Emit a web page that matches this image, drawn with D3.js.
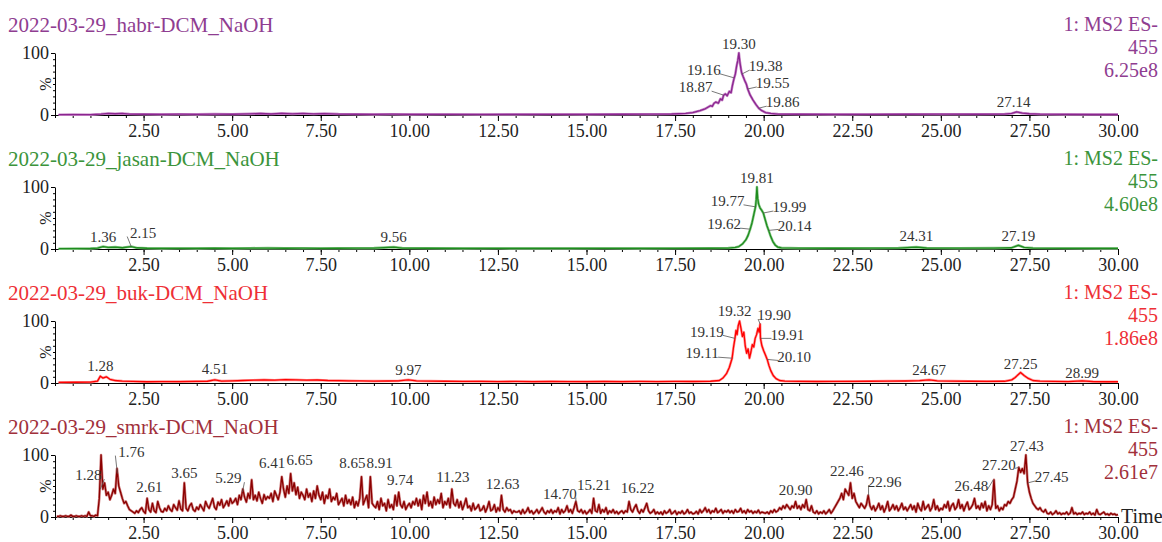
<!DOCTYPE html>
<html>
<head>
<meta charset="utf-8">
<script src="https://cdn.jsdelivr.net/npm/d3@7"></script>
<style>
body { margin: 0; background: #fff; }
svg { display: block; }
text { font-family: "Liberation Serif", "Times New Roman", serif; }
</style>
</head>
<body>
<div class="chrom"></div>
<script>
// sample names, channel info and base peak intensity (from the picture)
var sampleNames = ["2022-03-29_habr-DCM_NaOH", "2022-03-29_jasan-DCM_NaOH", "2022-03-29_buk-DCM_NaOH", "2022-03-29_smrk-DCM_NaOH"];
var channels = ["1: MS2 ES-", "1: MS2 ES-", "1: MS2 ES-", "1: MS2 ES-"];
var masses = ["455", "455", "455", "455"];
var maxIntensity = ["6.25e8", "4.60e8", "1.86e8", "2.61e7"];
var xTicks = [2.5, 5, 7.5, 10, 12.5, 15, 17.5, 20, 22.5, 25, 27.5, 30];
var yTicks = [0, 100];

// traces as [time (min), %]
var habr = [[0.1,0.5],[0.5,0.6],[1.0,0.5],[1.3,1.5],[1.5,2.5],[1.7,2],[1.9,2.5],[2.1,1.5],[2.5,1.2],[3.0,1],[3.5,1.3],[4.0,1],[4.5,1.4],[5.0,1.2],[5.5,1.8],[5.8,2.4],[6.1,1.6],[6.4,2.6],[6.7,1.8],[7.0,2.5],[7.3,1.7],[7.6,2.3],[8.0,1.5],[8.5,1.2],[9,1],[9.5,1.3],[10,1],[11,1.1],[12,0.9],[13,1],[14,1.1],[15,1],[16,1.2],[16.8,1.3],[17.4,1.6],[17.8,2.5],[18.0,4],[18.2,7],[18.35,10],[18.5,15],[18.55,14],[18.6,19],[18.65,21],[18.72,19],[18.78,26],[18.83,24],[18.87,32],[18.92,34],[18.97,31],[19.03,38],[19.08,36],[19.12,48],[19.16,58],[19.2,66],[19.24,80],[19.27,88],[19.30,100],[19.33,85],[19.36,74],[19.38,68],[19.42,62],[19.47,55],[19.51,50],[19.55,42],[19.62,32],[19.7,24],[19.78,17],[19.86,11],[19.95,7],[20.05,4],[20.2,2.5],[20.4,1.5],[21,1.2],[22,1],[23,1.1],[24,1.2],[25,1.3],[26,1.2],[26.8,1.5],[27.0,2.5],[27.14,5],[27.3,3],[27.5,2],[27.8,1.3],[28.5,1],[29.3,0.8],[30,0.8]];

var jasan = [[0.1,0.5],[0.6,0.6],[1.0,0.8],[1.2,1.5],[1.36,4],[1.5,2.5],[1.7,3],[1.9,2],[2.15,4],[2.3,2],[2.6,1.2],[3,1],[3.5,1.1],[4,1],[4.5,1.2],[5,1],[5.5,1.3],[6,1.4],[6.5,1.2],[7,1.3],[7.5,1.1],[8,1.2],[8.5,1.3],[9,1.4],[9.56,3],[9.8,1.5],[10.5,1.2],[11.5,1],[12.5,1.1],[13.5,1],[14.5,1],[15.5,1.1],[16.5,1],[17.5,1.1],[18.5,1.2],[19.0,1.5],[19.2,2.5],[19.3,4],[19.4,8],[19.5,15],[19.56,22],[19.62,32],[19.67,42],[19.72,55],[19.77,68],[19.79,80],[19.81,100],[19.83,82],[19.86,72],[19.9,66],[19.95,62],[19.99,58],[20.04,48],[20.09,38],[20.14,30],[20.2,20],[20.26,12],[20.33,6],[20.4,3],[20.5,1.8],[21,1.3],[22,1.2],[23,1.3],[23.8,1.5],[24.31,3],[24.6,1.6],[25.5,1.3],[26.5,1.4],[27.0,2],[27.19,6],[27.35,2.5],[27.6,1.5],[28.5,1.1],[29.5,1],[30,1]];

var buk = [[0.1,1],[0.6,1.2],[1.0,1.3],[1.2,3],[1.28,11],[1.35,8],[1.45,10],[1.55,6],[1.7,4],[1.9,3],[2.2,2.5],[2.6,2],[3,2.3],[3.5,2.2],[4,2.6],[4.3,2.8],[4.51,5],[4.7,3],[5,3.5],[5.3,4],[5.6,4.5],[5.9,5],[6.2,4.5],[6.5,5.5],[6.8,5],[7.1,4.5],[7.4,4.8],[7.7,4],[8,3.8],[8.3,3.5],[8.6,3.3],[9,3],[9.4,3.2],[9.7,3.5],[9.97,5],[10.2,3.5],[10.6,3],[11,2.8],[11.5,2.5],[12,2.6],[12.5,2.3],[13,2.5],[13.5,2.2],[14,2.4],[14.5,2.3],[15,2.2],[15.5,2.4],[16,2.2],[16.5,2.5],[17,2.3],[17.5,2.5],[18,2.4],[18.5,2.8],[18.75,4],[18.85,8],[18.95,15],[19.03,25],[19.11,40],[19.15,58],[19.19,72],[19.22,85],[19.25,78],[19.28,92],[19.32,100],[19.36,88],[19.4,75],[19.44,82],[19.48,60],[19.52,48],[19.56,55],[19.6,40],[19.64,50],[19.68,62],[19.72,58],[19.76,72],[19.8,78],[19.84,88],[19.87,82],[19.90,95],[19.91,72],[19.95,60],[20.0,52],[20.05,45],[20.10,38],[20.15,28],[20.2,20],[20.27,12],[20.35,7],[20.45,4],[20.6,3],[21,2.6],[21.5,2.4],[22,2.5],[22.5,2.6],[23,2.8],[23.5,3],[24,3.2],[24.4,3.8],[24.67,5],[24.9,3.5],[25.3,3],[25.8,2.8],[26.3,2.6],[26.8,2.8],[27.0,5],[27.1,9],[27.25,17],[27.35,12],[27.45,8],[27.6,4],[27.8,3],[28.2,2.5],[28.6,2.3],[28.99,3.5],[29.3,2.2],[29.7,2],[30,2]];

// smrk is noisy, kept as one value per scan (0.05 min apart), one row per minute
var smrkStart = 0.05, smrkStep = 0.05;
var smrkScan = [
  1,1,2,1,1,2,1,1,3,1,1,2,1,1,2,1,2,1,8,2,
  2,1,3,2,30,100,45,55,35,40,28,35,45,38,78,50,40,30,22,25,
  18,12,10,8,6,10,7,12,15,9,6,30,12,8,22,10,7,25,15,9,
  8,14,10,18,12,9,20,15,11,26,13,10,55,14,10,18,22,12,9,16,
  12,20,15,10,25,18,14,22,30,16,12,24,19,28,15,20,26,18,30,22,
  25,30,20,35,28,45,32,24,38,30,60,28,35,26,40,30,22,36,28,33,
  30,38,25,42,35,28,40,65,45,32,50,38,70,42,55,36,48,30,40,35,
  28,45,32,38,25,42,30,50,35,28,40,22,35,30,45,25,32,28,38,20,
  25,30,18,35,22,28,20,32,15,25,18,30,65,20,28,35,15,65,22,18,
  15,25,12,30,18,22,10,28,15,20,12,35,18,40,20,15,25,12,18,22,
  15,25,20,30,18,28,12,35,22,40,18,25,15,32,20,28,22,38,15,25,
  20,30,15,45,22,18,28,15,25,12,20,30,15,18,10,22,12,15,20,10,
  12,18,8,15,25,10,12,20,8,15,10,35,12,8,15,10,12,6,10,8,
  8,10,5,12,6,9,15,7,10,5,8,12,6,10,15,8,5,10,7,12,
  6,10,8,15,5,12,7,10,18,8,12,6,15,25,10,8,12,6,10,5,
  8,12,6,30,10,8,20,6,12,8,15,5,10,7,12,6,9,5,8,10,
  6,10,8,25,12,8,15,20,10,6,12,8,15,22,10,6,8,12,5,8,
  5,8,4,10,6,8,12,5,7,10,4,8,6,10,5,7,12,6,8,5,
  6,9,5,12,7,10,15,8,12,6,10,8,14,7,9,12,6,10,8,11,
  7,10,6,12,8,9,14,7,10,6,12,8,10,6,9,7,11,6,8,7,
  6,8,5,10,7,12,8,10,15,12,18,14,20,16,12,18,15,25,14,18,
  12,20,15,28,12,10,18,8,6,10,5,8,6,10,5,8,12,6,10,15,
  20,25,30,38,28,45,40,35,55,30,38,25,20,15,22,18,14,20,35,18,
  12,18,10,15,22,12,18,8,15,25,10,14,20,12,18,10,15,22,12,16,
  10,15,20,12,18,8,22,14,10,25,12,16,20,10,15,28,12,18,10,14,
  12,20,15,25,10,18,22,12,16,28,14,20,10,18,24,12,15,20,30,14,
  18,12,22,15,25,10,18,12,20,60,14,18,10,15,12,20,18,25,22,28,
  32,45,58,80,72,78,70,100,55,40,30,22,18,14,12,15,10,8,12,6,
  5,8,4,6,10,5,7,4,6,5,8,4,6,15,5,7,4,6,5,8,
  4,6,5,8,4,6,3,12,5,4,6,8,4,5,3,6,4,5,3,4
];
var smrk = smrkScan.map(function(v, i) { return [smrkStart + i * smrkStep, v]; });

// labelled peaks: [time, % where the label points]
var habrPeaks = [[19.30,100],[19.16,60],[19.38,66],[18.87,32],[19.55,42],[19.86,11],[27.14,5]];
var jasanPeaks = [[1.36,4],[2.15,4],[9.56,3],[19.81,100],[19.77,68],[19.99,58],[19.62,32],[20.14,30],[24.31,3],[27.19,6]];
var bukPeaks = [[1.28,11],[4.51,5],[9.97,5],[19.32,100],[19.90,95],[19.19,72],[19.11,40],[19.91,72],[20.10,38],[24.67,5],[27.25,17],[28.99,3.5]];
var smrkPeaks = [[1.28,45],[1.76,70],[2.61,30],[3.65,55],[5.29,40],[6.41,62],[6.65,70],[8.65,65],[8.91,65],[9.74,40],[11.23,45],[12.63,35],[14.70,25],[15.21,30],[16.22,22],[20.90,25],[22.46,55],[22.96,35],[26.48,60],[27.20,80],[27.43,100],[27.45,55]];

// where each label text sits relative to its peak (px)
var habrShift = [[0,-9],[-30,-8],[24,-8],[-28,-8],[25,-6],[24,-6],[-3,-10]];
var jasanShift = [[0,-10],[12,-14],[0,-10],[0,-9],[-28,-6],[26,-6],[-26,-5],[26,-5],[0,-11],[0,-10]];
var bukShift = [[0,-10],[0,-11],[0,-10],[-5,-10],[14,-9],[-28,-7],[-30,-5],[27,-4],[27,-3],[0,-10],[0,-9],[0,-8]];
var smrkShift = [[-12,-14],[14,-22],[2,-12],[0,-10],[-14,-14],[-10,-16],[9,-14],[-9,-14],[9,-14],[0,-12],[0,-12],[0,-12],[-16,-8],[0,-14],[8,-16],[0,-12],[-4,-12],[16,-14],[-22,6],[-20,-3],[0,-9],[24,-6]];

var panels = [
  { data: habr, peaks: habrPeaks, shift: habrShift, line: "#8b2590", halo: "#c98cc9", text: "#8f3d91" },
  { data: jasan, peaks: jasanPeaks, shift: jasanShift, line: "#1e8c1e", halo: "#8cc98c", text: "#3b943b" },
  { data: buk, peaks: bukPeaks, shift: bukShift, line: "#ff0000", halo: "#ff9a9a", text: "#ee2f36" },
  { data: smrk, peaks: smrkPeaks, shift: smrkShift, line: "#8b0000", halo: "#cf8080", text: "#a1303b" }
];

var width = 1162,
	height = 542,
	left = 55,
	right = 1118,
	firstTop = 53,
	gap = 134,
	plotH = 62;

var svg = d3.select(".chrom").append("svg")
	.attr("width", width)
	.attr("height", height);

var x = d3.scaleLinear().domain([0, 30]).range([left, right]);
var minorX = d3.range(0, 30.01, 0.5);
var minorY = d3.range(0, 100.01, 10);

panels.forEach(function(p, i) {
	var top = firstTop + i * gap,
		base = top + plotH;
	var y = d3.scaleLinear().domain([0, 100]).range([base, top]);
	var g = svg.append("g");

	// title and channel text
	g.append("text").attr("x", 8).attr("y", top - 21)
		.style("font-size", "21px").style("fill", p.text).text(sampleNames[i]);
	[channels[i], masses[i], maxIntensity[i]].forEach(function(t, k) {
		g.append("text").attr("x", 1158).attr("y", top - 22 + k * 23)
			.attr("text-anchor", "end")
			.style("font-size", "20px").style("fill", p.text).text(t);
	});

	// axes
	var minorAxis = g.append("g").attr("transform", "translate(0," + base + ")")
		.call(d3.axisBottom(x).tickValues(minorX).tickSize(3).tickFormat(""));
	minorAxis.select(".domain").remove();

	var xAxis = g.append("g").attr("transform", "translate(0," + base + ")")
		.call(d3.axisBottom(x).tickValues(xTicks).tickSize(6).tickSizeOuter(0).tickPadding(3)
			.tickFormat(d3.format(".2f")));
	xAxis.selectAll("text").style("font-size", "18px").style("fill", "#222")
		.style("font-family", "Liberation Serif");

	var yMinor = g.append("g").attr("transform", "translate(" + left + ",0)")
		.call(d3.axisLeft(y).tickValues(minorY).tickSize(2).tickFormat(""));
	yMinor.select(".domain").remove();
	var yAxis = g.append("g").attr("transform", "translate(" + left + ",0)")
		.call(d3.axisLeft(y).tickValues(yTicks).tickSize(4).tickSizeOuter(0).tickPadding(2));
	yAxis.selectAll("text").style("font-size", "18px").style("fill", "#222")
		.style("font-family", "Liberation Serif");

	g.append("text")
		.attr("transform", "translate(" + (left - 10) + "," + (top + plotH / 2) + ") rotate(-90)")
		.attr("text-anchor", "middle").attr("dy", "0.35em")
		.style("font-size", "16px").style("fill", "#222").text("%");

	// trace, with a soft halo like the blurred original
	var line = d3.line()
		.x(function(d) { return x(d[0]); })
		.y(function(d) { return y(d[1]); });
	g.append("path").datum(p.data)
		.attr("d", line)
		.style("fill", "none")
		.style("stroke", p.halo)
		.style("stroke-width", 2.6)
		.style("stroke-linejoin", "round");
	g.append("path").datum(p.data)
		.attr("d", line)
		.style("fill", "none")
		.style("stroke", p.line)
		.style("stroke-width", 1.3)
		.style("stroke-linejoin", "round");

	// peak labels
	p.peaks.forEach(function(pk, k) {
		var ax = x(pk[0]), ay = y(pk[1]);
		var s = p.shift[k];
		var tx = ax + s[0], ty = ay + s[1];
		if (Math.abs(s[0]) > 10) {
			var ex = tx + (s[0] > 0 ? -16 : 16);
			g.append("line")
				.attr("x1", ex).attr("y1", ty + 4)
				.attr("x2", ax).attr("y2", ay)
				.style("stroke", "#555").style("stroke-width", 0.8);
		}
		g.append("text").attr("x", tx).attr("y", ty).attr("dy", "0.35em")
			.attr("text-anchor", "middle")
			.style("font-size", "15px").style("fill", "#333")
			.text(pk[0].toFixed(2));
	});

	if (i == 3) {
		g.append("text").attr("x", right + 3).attr("y", base + 6)
			.style("font-size", "20px").style("fill", "#222").text("Time");
	}
});
</script>
</body>
</html>
